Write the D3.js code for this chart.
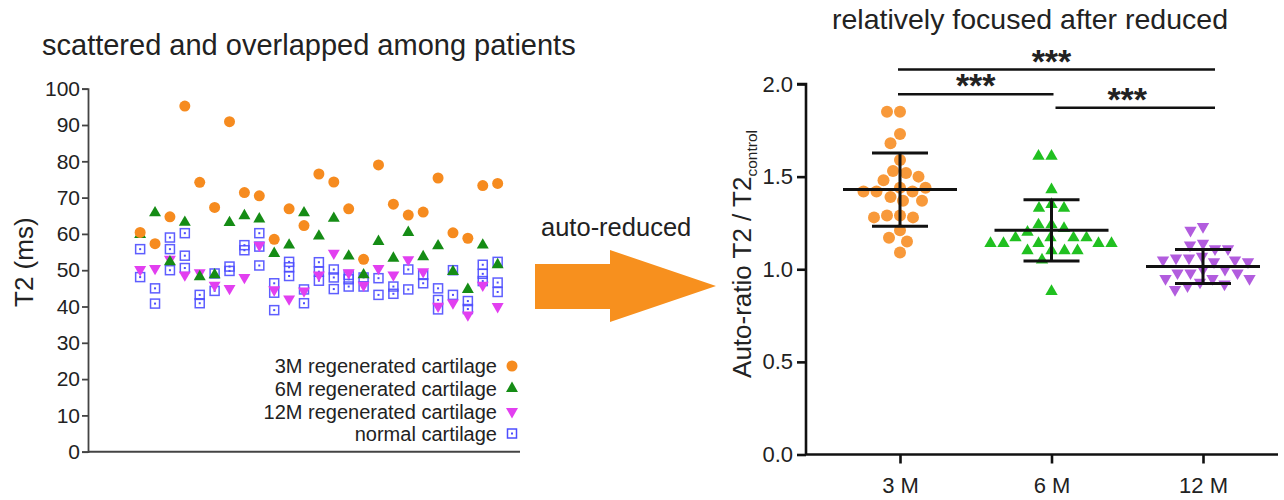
<!DOCTYPE html>
<html><head><meta charset="utf-8">
<script src="https://cdn.jsdelivr.net/npm/d3@7"></script>
<style>body{margin:0;background:#fff}svg{display:block;font-family:"Liberation Sans",Arial,sans-serif}</style>
</head><body><svg id="c" width="1284" height="500"></svg>
<script>
// ---------- data (left: per-patient T2, ms) ----------
const patients = d3.range(1, 26);
const t2_3M  = [60.4,57.3,64.7,95.2,74.2,67.3,90.9,71.4,70.5,58.5,66.9,62.3,76.5,74.3,66.9,53.0,79.0,68.2,65.2,66.0,75.4,60.3,58.8,73.3,73.9];
const t2_6M  = [59.8,65.8,52.3,63.2,48.2,48.7,63.1,65.0,64.1,54.6,56.9,65.8,59.4,64.3,53.9,48.7,57.9,53.3,60.4,53.7,56.7,49.6,44.7,56.9,51.5];
const t2_12M = [50.2,50.5,53.0,48.7,49.3,45.9,45.0,48.0,56.9,44.6,42.1,44.3,48.7,54.7,49.3,45.9,50.5,48.7,52.9,49.6,40.1,41.0,37.7,45.9,40.0];
const t2_normal = [[55.8,48.1],[45.0,40.8],[59.0,55.8,50.0],[60.2,54.0,50.6],[43.2,40.9],[49.1,44.3],[51.0,49.8],[56.9,55.5],[60.2,56.5,51.3],[46.4,43.8,39.0],[52.3,50.8,48.4],[44.7,40.9],[52.2,49.6,47.1],[50.2,48.0,44.8],[48.7,47.5,45.5],[48.0,45.5],[47.8,43.2],[45.5,43.5],[50.2,44.7],[48.7,46.4],[45.0,41.8,39.2],[50.0,43.2],[41.5,39.3],[51.5,49.0,47.0],[52.3,46.6,44.0]];
const leftTicks = d3.range(0, 101, 10);
const leftMinorTicks = d3.range(5, 100, 10);
const legendLabels = ["3M regenerated cartilage","6M regenerated cartilage","12M regenerated cartilage","normal cartilage"];

// ---------- data (right: auto-ratio) ----------
const groups = ["3 M","6 M","12 M"];
const ratio3M  = [1.85,1.85,1.73,1.68,1.59,1.53,1.52,1.50,1.48,1.44,1.42,1.44,1.42,1.42,1.39,1.37,1.37,1.29,1.28,1.28,1.29,1.21,1.17,1.15,1.09];
const ratio6M  = [1.61,1.61,1.43,1.33,1.35,1.33,1.24,1.24,1.22,1.20,1.17,1.17,1.17,1.17,1.14,1.14,1.14,1.14,1.14,1.10,1.10,1.10,1.10,1.05,0.88];
const ratio12M = [1.23,1.21,1.14,1.13,1.11,1.11,1.07,1.06,1.06,1.05,1.05,1.04,1.04,1.00,1.00,0.98,0.98,0.98,0.95,0.95,0.95,0.93,0.92,0.91,0.89];
const groupMeans = [1.43, 1.21, 1.015];
const groupSDs   = [0.198, 0.165, 0.092];
const rightTicks = [0, 0.5, 1.0, 1.5, 2.0];
const sigPairs  = [["3 M","12 M"],["3 M","6 M"],["6 M","12 M"]];
const sigLabels = ["***","***","***"];

// ---------- drawing ----------
const svg = d3.select("#c");
const ink = "#222";
const colL = {o:"#f68b1f", g:"#158c15", m:"#e23ff0", b:"#4d4dff"};
const colR = ["#f8993a", "#20c020", "#b25cde"];

// Left chart scales
const xL = d3.scaleLinear().domain([-2.5, 26.5]).range([88, 520]);
const yL = d3.scaleLinear().domain([0, 100]).range([451.7, 88.7]);

svg.append("text").attr("x", 42).attr("y", 55).attr("font-size", 29).attr("fill", ink)
  .text("scattered and overlapped among patients");

const gLy = svg.append("g").attr("transform", "translate(88,0)");
gLy.call(d3.axisLeft(yL).tickValues(leftMinorTicks).tickSize(3.5).tickFormat(""));
gLy.call(d3.axisLeft(yL).tickValues(leftTicks).tickSize(6).tickPadding(2).tickFormat(d3.format("d")));
gLy.selectAll("path,line").attr("stroke", "#444").attr("stroke-width", 1.8);
gLy.selectAll("text").attr("font-size", 21).attr("fill", ink).attr("font-family", "Liberation Sans, Arial, sans-serif");
svg.append("line").attr("x1", 88).attr("x2", 520).attr("y1", yL(0)).attr("y2", yL(0))
  .attr("stroke", "#444").attr("stroke-width", 2);
svg.append("text").attr("transform", `translate(33,${(yL(0)+yL(100))/2 - 8}) rotate(-90)`)
  .attr("text-anchor", "middle").attr("font-size", 26).attr("fill", ink).text("T2 (ms)");

const triUp = d3.symbol().type(d3.symbolTriangle).size(62)();
const triUpR = d3.symbol().type(d3.symbolTriangle).size(66)();

const gPts = svg.append("g");
patients.forEach((p, i) => {
  t2_normal[i].forEach(v => {
    const g = gPts.append("g").attr("transform", `translate(${xL(p)},${yL(v)})`);
    g.append("rect").attr("x", -4.5).attr("y", -4.5).attr("width", 9).attr("height", 9)
      .attr("fill", "none").attr("stroke", colL.b).attr("stroke-width", 1.5).attr("opacity", 0.9);
    g.append("rect").attr("x", -1).attr("y", -1).attr("width", 2).attr("height", 2).attr("fill", colL.b);
  });
});
gPts.selectAll(".m").data(t2_12M).join("path").attr("d", triUp)
  .attr("transform", (d, i) => `translate(${xL(patients[i])},${yL(d)}) rotate(180)`).attr("fill", colL.m);
gPts.selectAll(".g").data(t2_6M).join("path").attr("d", triUp)
  .attr("transform", (d, i) => `translate(${xL(patients[i])},${yL(d)})`).attr("fill", colL.g);
gPts.selectAll(".o").data(t2_3M).join("circle")
  .attr("cx", (d, i) => xL(patients[i])).attr("cy", d => yL(d)).attr("r", 5.5).attr("fill", colL.o);

const legY = [366, 388.5, 411.5, 433.5];
legendLabels.forEach((t, i) => {
  svg.append("text").attr("x", 497).attr("y", legY[i] + 7).attr("text-anchor", "end")
    .attr("font-size", 20).attr("fill", ink).text(t);
  const sx = 512, sy = legY[i];
  if (i === 0) svg.append("circle").attr("cx", sx).attr("cy", sy).attr("r", 5.5).attr("fill", colL.o);
  if (i === 1) svg.append("path").attr("d", triUp).attr("transform", `translate(${sx},${sy})`).attr("fill", colL.g);
  if (i === 2) svg.append("path").attr("d", triUp).attr("transform", `translate(${sx},${sy}) rotate(180)`).attr("fill", colL.m);
  if (i === 3) {
    svg.append("rect").attr("x", sx - 4.5).attr("y", sy - 4.5).attr("width", 9).attr("height", 9)
      .attr("fill", "none").attr("stroke", colL.b).attr("stroke-width", 1.5);
    svg.append("rect").attr("x", sx - 1).attr("y", sy - 1).attr("width", 2).attr("height", 2).attr("fill", colL.b);
  }
});

svg.append("text").attr("x", 541).attr("y", 236).attr("font-size", 25.5).attr("fill", ink).text("auto-reduced");
svg.append("path").attr("d", "M535,264 L610,264 L610,250 L716,286 L610,322 L610,309 L535,309 Z")
  .attr("fill", "#f7901e");

// Right chart scales
const xR = d3.scalePoint().domain(groups).range([900, 1203]);
const yR = d3.scaleLinear().domain([0, 2]).range([454.5, 84]);
const axX0 = 806, axX1 = 1278;

svg.append("text").attr("x", 1030).attr("y", 29).attr("text-anchor", "middle")
  .attr("font-size", 28.5).attr("fill", ink).text("relatively focused after reduced");

const gRy = svg.append("g").attr("transform", `translate(${axX0},0)`)
  .call(d3.axisLeft(yR).tickValues(rightTicks).tickSize(9).tickPadding(4).tickFormat(d3.format(".1f")));
gRy.selectAll("path").attr("stroke", "#111").attr("stroke-width", 2.6).attr("d", `M-9,${yR(2)}H0V${yR(0)}`);
gRy.selectAll("line").attr("stroke", "#111").attr("stroke-width", 2.6);
gRy.selectAll("text").attr("font-size", 22).attr("fill", ink).attr("font-family", "Liberation Sans, Arial, sans-serif");

const gRx = svg.append("g").attr("transform", `translate(0,${yR(0)})`)
  .call(d3.axisBottom(xR).tickSize(9).tickPadding(14));
gRx.select("path").attr("d", `M${axX0},0H${axX1}`).attr("stroke", "#111").attr("stroke-width", 2.6);
gRx.selectAll("line").attr("stroke", "#111").attr("stroke-width", 2.6);
gRx.selectAll("text").attr("font-size", 22).attr("fill", ink).attr("font-family", "Liberation Sans, Arial, sans-serif");

const yTitle = svg.append("text").attr("transform", `translate(751,254) rotate(-90)`)
  .attr("text-anchor", "middle").attr("font-size", 26).attr("fill", ink);
yTitle.append("tspan").text("Auto-ratio  T2 / T2");
yTitle.append("tspan").attr("font-size", 15.5).attr("dy", 6).text("control");

function swarm(vals, cx, minDist) {
  const pts = vals.map(v => ({v, y: yR(v)})).sort((a, b) => b.v - a.v);
  const placed = [];
  for (const p of pts) {
    let x = cx;
    for (let k = 0; k < 2000; k++) {
      const off = (k % 2 === 0 ? 1 : -1) * Math.ceil(k / 2) * 0.5;
      const cand = cx + off;
      if (placed.every(q => (q.x - cand) ** 2 + (q.y - p.y) ** 2 >= minDist * minDist)) { x = cand; break; }
    }
    p.x = x; placed.push(p);
  }
  return placed;
}
const ratios = [ratio3M, ratio6M, ratio12M];
const gR = svg.append("g");
groups.forEach((g, gi) => {
  const pts = swarm(ratios[gi], xR(g), 13);
  const sel = gR.append("g");
  if (gi === 0) sel.selectAll("circle").data(pts).join("circle").attr("cx", d => d.x).attr("cy", d => d.y).attr("r", 6).attr("fill", colR[0]);
  else sel.selectAll("path").data(pts).join("path").attr("d", triUpR)
    .attr("transform", d => `translate(${d.x},${d.y})${gi === 2 ? " rotate(180)" : ""}`).attr("fill", colR[gi]);
});
groups.forEach((g, gi) => {
  const cx = xR(g), m = groupMeans[gi], s = groupSDs[gi];
  const e = gR.append("g").attr("stroke", "#111").attr("stroke-width", 3);
  e.append("line").attr("x1", cx - 57).attr("x2", cx + 57).attr("y1", yR(m)).attr("y2", yR(m));
  e.append("line").attr("x1", cx).attr("x2", cx).attr("y1", yR(m + s)).attr("y2", yR(m - s));
  e.append("line").attr("x1", cx - 28).attr("x2", cx + 28).attr("y1", yR(m + s)).attr("y2", yR(m + s));
  e.append("line").attr("x1", cx - 28).attr("x2", cx + 28).attr("y1", yR(m - s)).attr("y2", yR(m - s));
});

const sigY = [69.5, 94.3, 107.7];
sigPairs.forEach((pr, i) => {
  const xa = xR(pr[0]) - 2, xb = xR(pr[1]) + (pr[1] === "12 M" ? 12 : 2);
  svg.append("line").attr("x1", pr[0] === "6 M" ? xR(pr[0]) + 4 : xa).attr("x2", xb)
    .attr("y1", sigY[i]).attr("y2", sigY[i]).attr("stroke", "#111").attr("stroke-width", 2.6);
  svg.append("text").attr("x", (xR(pr[0]) + xR(pr[1])) / 2).attr("y", sigY[i] + 3)
    .attr("text-anchor", "middle").attr("font-size", 34).attr("font-weight", "bold").attr("fill", ink).text(sigLabels[i]);
});
</script></body></html>
